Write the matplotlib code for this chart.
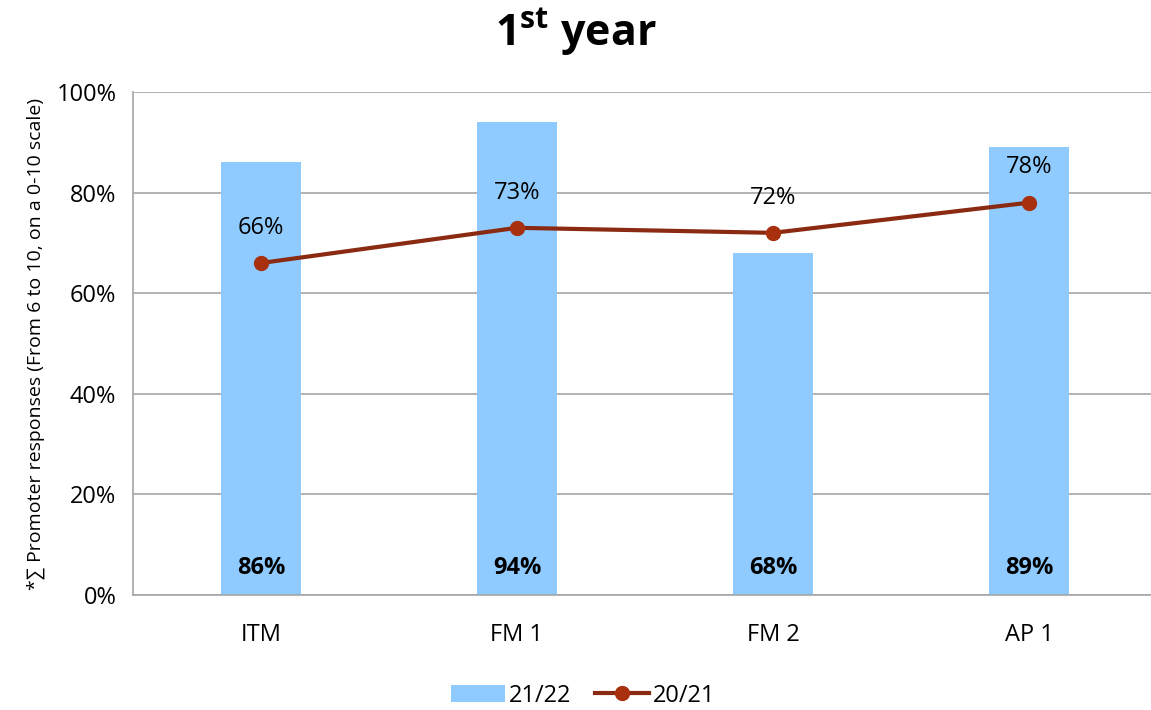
import numpy as np
import matplotlib
matplotlib.use("Agg")
import matplotlib.pyplot as plt
from matplotlib.ticker import PercentFormatter

plt.rcParams['font.family'] = ['Open Sans', 'DejaVu Sans']
plt.rcParams['mathtext.fontset'] = 'custom'
plt.rcParams['mathtext.rm'] = 'Open Sans'
plt.rcParams['mathtext.bf'] = 'Open Sans:bold'

categories = ["ITM", "FM 1", "FM 2", "AP 1"]
values_2122 = [86, 94, 68, 89]
values_2021 = [66, 73, 72, 78]

fig = plt.figure(figsize=(11.51, 7.10), dpi=100)
ax = fig.add_axes([133 / 1151, 115 / 710, 1024 / 1151, 503 / 710])

x = np.arange(len(categories))
bar_h = ax.bar(x, values_2122, width=0.3125, color="#8FCBFF", label="21/22", zorder=2)
line_h, = ax.plot(x, values_2021, color="#8B2A12", lw=3, marker="o", ms=10,
                  markerfacecolor="#A8300F", markeredgecolor="#A8300F", label="20/21", zorder=3)

for xi, v in zip(x, values_2122):
    ax.text(xi, 5.3, f"{v}%", ha="center", va="center", fontsize=17, fontweight="bold", zorder=4)
for xi, v in zip(x, values_2021):
    ax.text(xi, v + 7, f"{v}%", ha="center", va="center", fontsize=17, zorder=4)

ax.set_xlim(-0.5, 3.5)
ax.set_ylim(0, 100)
ax.set_yticks(range(0, 101, 20))
ax.yaxis.set_major_formatter(PercentFormatter(decimals=0))
ax.grid(axis="y", color="#A6A6A6", lw=1.2, zorder=0)
ax.set_xticks(x)
ax.set_xticklabels(categories)
ax.tick_params(axis="both", length=0, labelsize=17)
ax.tick_params(axis="x", pad=20)
ax.tick_params(axis="y", pad=12)
for s in ["top", "right"]:
    ax.spines[s].set_visible(False)
for s in ["left", "bottom"]:
    ax.spines[s].set_color("#A6A6A6")
    ax.spines[s].set_linewidth(1.2)

ax.set_ylabel("*∑ Promoter responses (From 6 to 10, on a 0-10 scale)", fontsize=14, labelpad=8)

fig.text(0.5, 0.955, r"$\mathbf{1^{st}}$ year", ha="center", va="center",
         fontsize=31, fontweight="bold")

ax.legend([bar_h, line_h], ["21/22", "20/21"], loc="center", bbox_to_anchor=(450 / 1024, -0.2),
          ncol=2, frameon=False, fontsize=17, handlelength=2.3, columnspacing=1.0, handletextpad=0.15)

fig.savefig("out.png", dpi=100)
